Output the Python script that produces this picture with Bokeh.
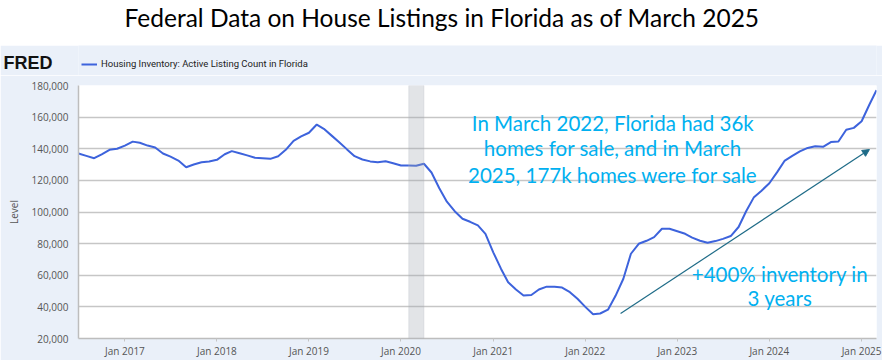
import pandas as pd
from bokeh.plotting import figure
from bokeh.models import (Range1d, FixedTicker, NumeralTickFormatter, DatetimeTickFormatter,
                          BoxAnnotation, Arrow, NormalHead, Label, Legend, LinearAxis,
                          LegendItem, ColumnDataSource)
from bokeh.layouts import column
from bokeh.embed import file_html
from bokeh.resources import INLINE
from bokeh.core.properties import value

# ---------------- data ----------------
start_month = "2016-07-01"
# Active listing count in Florida, monthly Jul 2016 .. Mar 2025
listings = [
    137000, 135500, 134000, 136500, 139300, 140000,   # Jul-Dec 2016
    142000, 144500, 143800, 142000, 140800, 137000,   # Jan-Jun 2017
    135000, 132500, 128300, 130000, 131500, 132000,   # Jul-Dec 2017
    133000, 136500, 138500, 137200, 135800, 134300,   # Jan-Jun 2018
    134000, 133600, 135300, 139300, 145000, 147800,   # Jul-Dec 2018
    150100, 155300, 152600, 148300, 144100, 139600,   # Jan-Jun 2019
    135300, 133200, 132000, 131500, 132100, 130800,   # Jul-Dec 2019
    129400, 129400, 129200, 130500, 125000, 115000,   # Jan-Jun 2020
    106500, 100500, 95700, 93800, 91500, 86200,       # Jul-Dec 2020
    74500, 64000, 55600, 51000, 47200, 47500,         # Jan-Jun 2021
    51000, 52800, 52700, 52200, 49300, 45100,         # Jul-Dec 2021
    40000, 35300, 35800, 38200, 47000, 57800,         # Jan-Jun 2022
    73600, 79900, 81800, 84100, 89400, 89400,         # Jul-Dec 2022
    87800, 86200, 83800, 81800, 80600, 81600,         # Jan-Jun 2023
    83000, 84800, 90500, 100500, 109400, 113500,      # Jul-Dec 2023
    118200, 125200, 132300, 135500, 138300, 140500,   # Jan-Jun 2024
    141600, 141200, 144200, 144600, 152000, 153200,   # Jul-Dec 2024
    157400, 168000, 177000,                           # Jan-Mar 2025
]
year_ticks = ["2017-01-01", "2018-01-01", "2019-01-01", "2020-01-01", "2021-01-01",
              "2022-01-01", "2023-01-01", "2024-01-01", "2025-01-01"]
y_ticks = [20000, 40000, 60000, 80000, 100000, 120000, 140000, 160000, 180000]
recession_start = "2020-02-01"
recession_end = "2020-04-01"

series_name = "Housing Inventory: Active Listing Count in Florida"
chart_title = "Federal Data on House Listings in Florida as of March 2025"
brand = "FRED"

info_lines = ["In March 2022, Florida had 36k", "homes for sale, and in March",
              "2025, 177k homes were for sale"]
info_x = "2022-04-20"
info_y = [156600, 140200, 123700]
growth_lines = ["+400% inventory in", "3 years"]
growth_x = "2024-02-12"
growth_y = [61100, 45300]
arrow_from = ("2022-05-21", 35800)
arrow_to = ("2025-02-01", 139500)

# ---------------- styles / layout ----------------
PANEL = "#eaf0f9"
LINE = "#3d63dc"
CYAN = "#00b0f0"
TEAL = "#1e6b87"
GRID = "#c6c6c6"
TICKTXT = "#555555"
W = 882
BL, BR = 77, 6          # shared left/right borders (frames are aligned in the column)
TITLE_H, STRIP_H, MAIN_H = 45, 30, 285


def ms(d):
    return pd.Timestamp(d).value / 1e6


dates = pd.date_range(start_month, periods=len(listings), freq="MS")


def header(h, y0, fill):
    f = figure(width=W, height=h, x_range=Range1d(BL, W - BR), y_range=Range1d(y0 + h, y0),
               output_backend="svg", toolbar_location=None, x_axis_location=None,
               y_axis_location=None, min_border_left=BL, min_border_right=BR,
               min_border_top=0, min_border_bottom=0)
    f.outline_line_color = None
    f.grid.visible = False
    f.background_fill_color = fill
    f.border_fill_color = fill
    return f


# ---------------- title strip (white) ----------------
tf = header(TITLE_H, 0, "white")
tf.add_layout(Label(x=W / 2, y=17, text=chart_title, text_align="center", text_baseline="middle",
                    text_font="Lato", text_font_size="24.5px", text_color="black"))

# ---------------- FRED legend strip ----------------
lf = header(STRIP_H, TITLE_H, PANEL)
brand_row = 62
brand_axis = LinearAxis(ticker=FixedTicker(ticks=[brand_row]),
                        major_label_overrides={brand_row: brand})
brand_axis.axis_line_color = None
brand_axis.major_tick_line_color = None
brand_axis.minor_tick_line_color = None
brand_axis.major_tick_out = 0
brand_axis.major_tick_in = 0
brand_axis.major_label_standoff = 26
brand_axis.major_label_text_font = "Liberation Sans"
brand_axis.major_label_text_font_style = "bold"
brand_axis.major_label_text_font_size = "18px"
brand_axis.major_label_text_color = "#111111"
lf.add_layout(brand_axis, "left")

# proxy renderer: the real series, far outside this strip's ranges (only its legend key shows)
key = lf.line(x=dates, y=listings, line_color=LINE, line_width=2)
leg = Legend(items=[LegendItem(label=series_name, renderers=[key])], location=(3, 6),
             orientation="horizontal", glyph_width=16, glyph_height=10, label_height=10,
             label_standoff=4, padding=0, margin=0, spacing=0,
             label_text_font="Roboto", label_text_font_size="9.5px", label_text_color="#222222",
             background_fill_alpha=0, border_line_color=None)
lf.add_layout(leg)

# ---------------- main chart ----------------
p = figure(width=W, height=MAIN_H, x_axis_type="datetime", output_backend="svg",
           toolbar_location=None,
           x_range=Range1d(dates[0], dates[-1]), y_range=Range1d(y_ticks[0], y_ticks[-1]),
           min_border_left=BL, min_border_right=BR, min_border_top=10, min_border_bottom=22)
p.background_fill_color = "white"
p.border_fill_color = PANEL
p.outline_line_color = None

p.add_layout(BoxAnnotation(left=ms(recession_start), right=ms(recession_end),
                           fill_color="#9ea6b0", fill_alpha=0.3, line_color="#b4b9bf",
                           line_width=1))

p.line(dates, listings, line_color=LINE, line_width=2)

p.xgrid.visible = False
p.ygrid.grid_line_color = GRID
p.ygrid.grid_line_width = 1.5

xa = p.xaxis[0]
xa.ticker = FixedTicker(ticks=[ms(d) for d in year_ticks])
fmt = "%b %Y"
xa.formatter = DatetimeTickFormatter(years=fmt, months=fmt, days=fmt, hours=fmt, minutes=fmt,
                                     hourmin=fmt, seconds=fmt, minsec=fmt, milliseconds=fmt,
                                     microseconds=fmt)
xa.axis_line_color = "#bdbdbd"
xa.axis_line_width = 1.5
xa.major_tick_line_color = "#c4c4c4"
xa.major_tick_out = 3
xa.major_tick_in = 0
xa.minor_tick_line_color = None
xa.major_label_standoff = 2
xa.major_label_text_font = "Open Sans"
xa.major_label_text_font_size = "10px"
xa.major_label_text_color = TICKTXT

ya = p.yaxis[0]
ya.ticker = FixedTicker(ticks=y_ticks)
ya.formatter = NumeralTickFormatter(format="0,0")
ya.axis_line_color = "#bdbdbd"
ya.axis_line_width = 1.5
ya.major_tick_line_color = None
ya.minor_tick_line_color = None
ya.major_tick_out = 0
ya.major_tick_in = 0
ya.major_label_standoff = 10
ya.major_label_text_font = "Open Sans"
ya.major_label_text_font_size = "10px"
ya.major_label_text_color = TICKTXT
ya.axis_label = "Level"
ya.axis_label_text_font = "Open Sans"
ya.axis_label_text_font_style = "normal"
ya.axis_label_text_font_size = "10px"
ya.axis_label_text_color = TICKTXT
ya.axis_label_standoff = 8

info_src = ColumnDataSource(dict(x=[pd.Timestamp(info_x)] * len(info_lines), y=info_y, t=info_lines))
p.text(x="x", y="y", text="t", source=info_src, text_align="center", text_baseline="middle",
       text_font=value("Lato"), text_font_size=value("20.5px"), text_color=CYAN)
growth_src = ColumnDataSource(dict(x=[pd.Timestamp(growth_x)] * len(growth_lines), y=growth_y,
                                   t=growth_lines))
p.text(x="x", y="y", text="t", source=growth_src, text_align="center", text_baseline="middle",
       text_font=value("Lato"), text_font_size=value("20.5px"), text_color=CYAN)

p.add_layout(Arrow(end=NormalHead(size=7, fill_color=TEAL, line_color=TEAL, line_width=1),
                   x_start=ms(arrow_from[0]), y_start=arrow_from[1],
                   x_end=ms(arrow_to[0]), y_end=arrow_to[1],
                   line_color=TEAL, line_width=1.2))

layout = column(tf, lf, p, spacing=0)
open("out.html", "w").write(file_html(layout, INLINE))
